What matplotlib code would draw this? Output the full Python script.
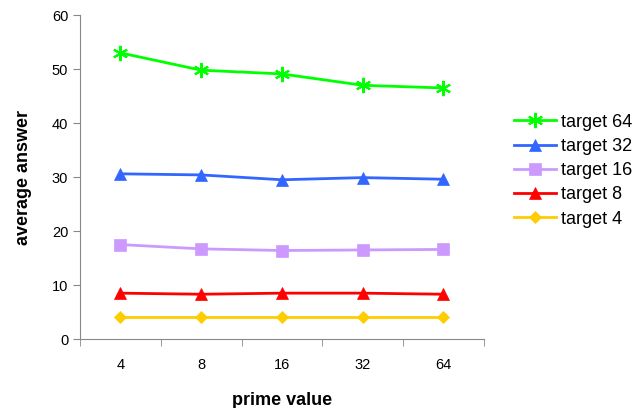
import matplotlib.pyplot as plt

plt.rcParams['font.family'] = ['Liberation Sans', 'DejaVu Sans']

primes = ['4', '8', '16', '32', '64']
target64 = [53.0, 49.8, 49.1, 47.0, 46.5]
target32 = [30.6, 30.4, 29.5, 29.9, 29.6]
target16 = [17.5, 16.7, 16.4, 16.5, 16.6]
target8 = [8.5, 8.3, 8.5, 8.5, 8.3]
target4 = [4.0, 4.0, 4.0, 4.0, 4.0]

series = [
    ('target 64', target64, '#00FF00', (6, 2, 0), 11),
    ('target 32', target32, '#3366FF', '^', 9),
    ('target 16', target16, '#CC99FF', 's', 8),
    ('target 8', target8, '#FF0000', '^', 9),
    ('target 4', target4, '#FFCC00', 'D', 6),
]

fig = plt.figure(figsize=(6.35, 4.08), dpi=100)
ax = fig.add_axes([0.126, 0.169, 0.636, 0.794])

x = range(len(primes))
for name, vals, col, mk, ms in series:
    ax.plot(x, vals, color=col, marker=mk, markersize=ms, lw=2,
            markeredgewidth=1.5 if mk == (6, 2, 0) else 0.5,
            markeredgecolor=col, label=name)

ax.set_xlim(-0.5, len(primes) - 0.5)
ax.set_ylim(0, 60)
ax.set_yticks(range(0, 61, 10))
ax.set_xticks(list(x))
ax.set_xticklabels(primes)
ax.set_xticks([i - 0.5 for i in range(len(primes) + 1)], minor=True)
ax.tick_params(axis='x', which='major', length=0, pad=14, labelsize=10.5)
ax.tick_params(axis='x', which='minor', length=5, direction='out', color='#888888')
ax.tick_params(axis='y', length=5, direction='out', color='#888888', labelsize=10.5)

for s in ['top', 'right']:
    ax.spines[s].set_visible(False)
for s in ['left', 'bottom']:
    ax.spines[s].set_color('#888888')

ax.set_xlabel('prime value', fontsize=13, fontweight='bold', labelpad=14)
ax.set_ylabel('average answer', fontsize=13, fontweight='bold', labelpad=14)

ax.legend(loc='center left', bbox_to_anchor=(1.035, 0.52), frameon=False,
          fontsize=13, handlelength=2.3, labelspacing=0.4, handletextpad=0.3)

fig.savefig('out.png', dpi=100)
